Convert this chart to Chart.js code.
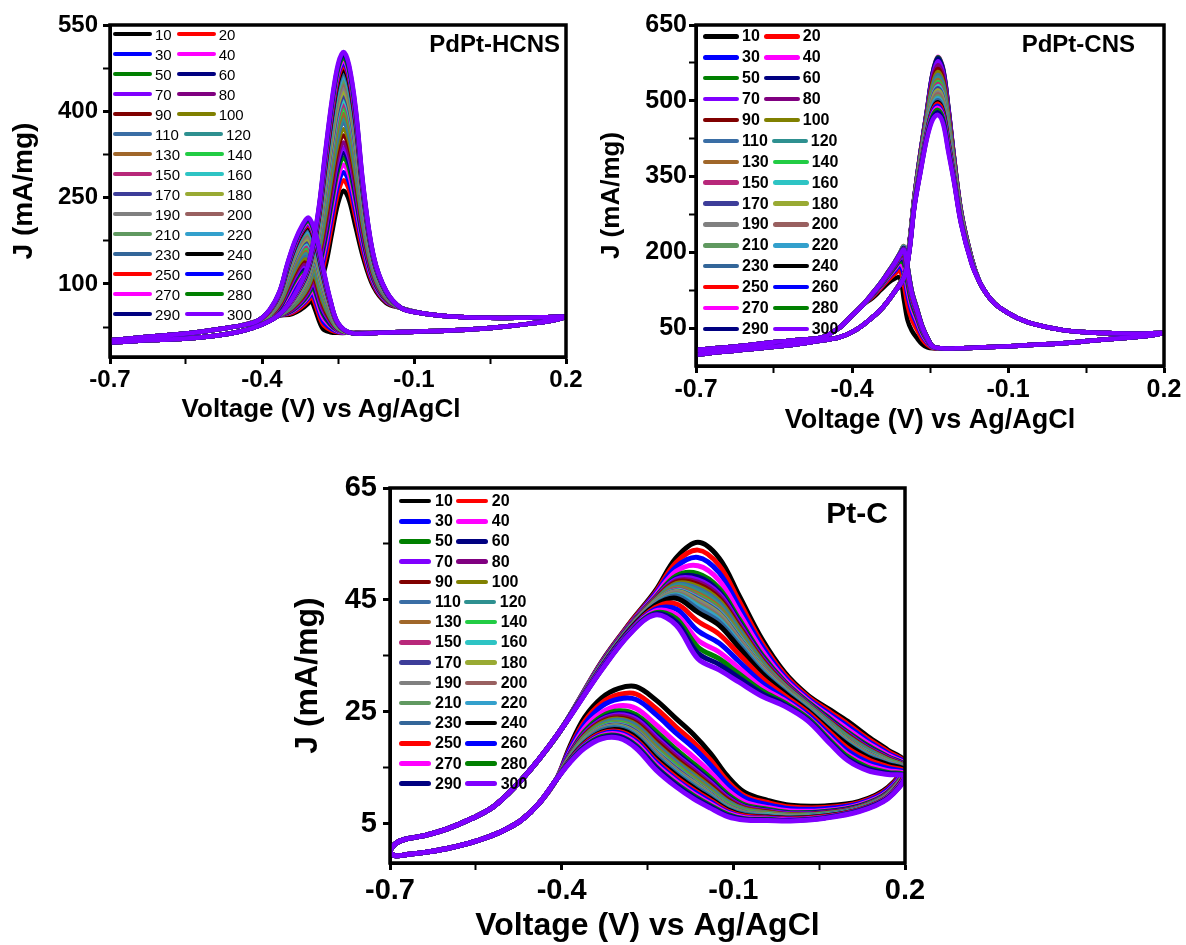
<!DOCTYPE html>
<html><head><meta charset="utf-8">
<script src="https://cdn.jsdelivr.net/npm/chart.js@4.4.1/dist/chart.umd.min.js"></script>
<style>
html,body{margin:0;padding:0;background:#fff;}
#root{position:relative;width:1186px;height:945px;overflow:hidden;background:#fff;font-family:"Liberation Sans",Arial,Helvetica,sans-serif;}
canvas{position:absolute;}
.leg{position:absolute;color:#000;}
.row{display:flex;align-items:center;white-space:nowrap;}
.sw{display:inline-block;flex:0 0 auto;border-radius:3px;}
.ptitle{position:absolute;font-weight:bold;color:#000;white-space:nowrap;line-height:1;}
</style></head><body><div id="root">
<canvas id="c1" width="600" height="440" style="left:0;top:0"></canvas>
<canvas id="c2" width="596" height="445" style="left:590px;top:0"></canvas>
<canvas id="c3" width="660" height="475" style="left:280px;top:470px"></canvas>
</div>
<script>
// ---------- shared ----------
const cycles = [10,20,30,40,50,60,70,80,90,100,110,120,130,140,150,160,170,180,190,200,210,220,230,240,250,260,270,280,290,300];
const seriesColors = ['#000000','#FF0000','#0000FF','#FF00FF','#008000','#000080','#8000FF','#800080','#800000','#808000',
  '#3A6EA5','#2E9090','#A0672A','#22CC44','#B8287A','#2EC4C4','#3D3D99','#99AA33','#808080','#996060',
  '#609960','#33A0CC','#336699','#000000','#FF0000','#0000FF','#FF00FF','#008000','#000080','#8000FF'];
const xMajor = [-0.7,-0.4,-0.1,0.2];
const xMajorLabels = ['-0.7','-0.4','-0.1','0.2'];
const xMinor = [-0.55,-0.25,0.05];
const xTitle = 'Voltage (V) vs Ag/AgCl';
const yTitle = 'J (mA/mg)';

// ---------- Panel 1 : PdPt-HCNS ----------
const p1Title = 'PdPt-HCNS';
const p1YMajor = [100,250,400,550];
const p1YMinor = [25,175,325,475];
const p1FwdStartV = [-0.7,-0.65,-0.6,-0.55,-0.5,-0.45,-0.41,-0.37];
const p1FwdStartJ = [-2,1,3,5,9,16,26,44];
const p1FwdPeakV = [-0.34,-0.31,-0.29,-0.275,-0.262,-0.25,-0.239,-0.228,-0.215,-0.2,-0.18,-0.155];
const p1FwdPeakJ = [
[48,65,90,130,188,240,262,245,198,145,95,67],
[50,70,100,145,205,258,280,263,214,154,99,69],
[52,74,107,157,219,272,294,276,226,162,102,70],
[53,77,114,168,232,285,307,289,237,169,105,71],
[54,80,121,178,243,298,319,301,247,175,108,72],
[55,83,126,185,252,307,328,310,255,179,110,73],
[56,85,131,193,261,316,337,319,263,184,112,74],
[57,88,136,200,269,325,346,327,270,189,114,74],
[59,91,142,210,281,337,358,339,281,195,117,75],
[60,94,147,218,291,347,369,349,289,200,119,76],
[61,97,153,228,301,358,380,360,299,206,122,77],
[62,99,158,234,309,366,388,367,306,210,124,78],
[63,101,163,242,317,375,396,376,314,215,126,79],
[64,104,167,249,326,384,406,385,321,220,128,80],
[65,106,171,255,333,391,413,392,327,223,129,80],
[66,108,175,261,340,398,420,399,333,227,131,81],
[66,109,179,267,346,405,427,406,339,230,133,81],
[67,111,183,273,353,413,434,413,346,234,134,82],
[68,113,187,279,361,421,442,420,352,238,136,83],
[69,115,191,285,368,428,449,427,358,242,138,83],
[69,117,193,289,373,433,454,432,363,245,139,84],
[70,119,197,295,379,440,461,439,369,248,140,84],
[71,120,201,300,385,446,467,445,374,251,142,85],
[72,122,204,305,391,452,473,451,379,254,143,85],
[72,124,207,310,397,458,479,457,384,258,145,86],
[73,125,210,314,402,463,484,461,389,260,146,86],
[73,126,212,318,407,468,489,466,393,263,147,87],
[74,128,215,323,411,473,494,471,397,265,148,87],
[75,129,218,327,416,478,499,476,401,268,149,88],
[75,130,220,330,420,482,503,480,405,270,150,88]];
const p1FwdEndV = [-0.125,-0.09,-0.05,0,0.05,0.1,0.15,0.2];
const p1FwdEndJ = [58,50,45,42,41,41,42,43];
const p1RevStartV = [0.17,0.13,0.08,0.03,-0.03,-0.1,-0.17,-0.225];
const p1RevStartJ = [36,31,26,22,19,17,15,15];
const p1RevPeakV = [-0.25,-0.265,-0.28,-0.295,-0.308,-0.32,-0.335,-0.35,-0.365,-0.385];
const p1RevPeakJ = [
[15,16,22,55,85,98,85,65,50,38],
[16,20,30,65,95,106,92,70,53,39],
[17,23,36,73,102,112,97,74,55,40],
[18,27,42,80,109,118,102,78,57,41],
[19,29,48,87,116,123,106,82,59,42],
[20,31,52,92,121,127,110,84,60,43],
[20,34,56,97,126,131,113,87,62,43],
[21,36,60,102,131,135,117,90,63,44],
[22,38,65,109,137,140,121,93,65,45],
[23,41,70,115,142,144,125,96,67,46],
[23,43,75,121,148,149,129,99,69,46],
[24,45,78,125,153,153,132,101,70,47],
[24,47,82,130,158,157,135,104,71,47],
[25,49,86,135,162,161,139,107,73,48],
[26,51,90,139,166,164,141,109,74,49],
[26,53,93,143,170,167,144,111,75,49],
[27,54,96,147,174,170,146,113,76,50],
[27,56,99,151,178,173,149,115,77,50],
[28,58,103,156,182,176,152,117,78,51],
[28,59,106,160,186,179,155,119,79,51],
[29,61,108,162,188,182,157,121,80,52],
[29,62,111,166,192,185,159,123,81,52],
[29,64,114,170,196,187,162,125,82,52],
[30,65,117,173,199,190,164,126,83,53],
[30,66,119,177,202,193,166,128,84,53],
[31,68,121,179,205,195,168,129,85,54],
[31,69,124,182,207,197,170,131,86,54],
[31,70,126,185,210,199,172,132,87,54],
[32,71,128,188,213,201,173,134,87,55],
[32,72,130,190,215,203,175,135,88,55]];
const p1RevEndV = [-0.41,-0.44,-0.48,-0.52,-0.56,-0.6,-0.65,-0.7];
const p1RevEndJ = [35,28,22,17,13,10,6,2];

// ---------- Panel 2 : PdPt-CNS ----------
const p2Title = 'PdPt-CNS';
const p2YMajor = [50,200,350,500,650];
const p2YMinor = [125,275,425,575];
const p2FwdStartV = [-0.7,-0.65,-0.6,-0.55,-0.5,-0.456,-0.423,-0.39,-0.36,-0.34,-0.32];
const p2FwdStartJ = [-3,3,8,13,19,26,32,48,72,92,119];
const p2FwdPeakV = [-0.30,-0.29,-0.28,-0.268,-0.256,-0.245,-0.235,-0.225,-0.215,-0.204,-0.19,-0.17];
const p2FwdPeakJ = [
[154,213,308,396,474,545,575,554,481,385,277,187],
[155,214,309,398,477,549,580,558,485,387,278,187],
[155,214,309,399,478,552,583,561,487,388,279,188],
[155,215,310,400,480,555,587,565,490,390,280,188],
[155,215,310,400,480,554,586,564,489,390,280,188],
[155,215,309,399,479,553,584,562,488,389,279,188],
[155,214,308,397,476,548,578,556,483,386,278,187],
[154,213,307,394,472,541,570,549,477,383,276,187],
[154,212,306,392,469,536,563,542,471,380,275,186],
[154,211,305,390,466,531,557,536,467,377,273,185],
[153,210,304,387,463,526,551,531,462,374,272,185],
[153,210,303,386,460,522,546,526,458,372,271,184],
[153,209,302,384,458,518,541,521,454,370,270,184],
[153,208,301,383,456,515,537,517,451,368,269,184],
[153,208,301,381,454,511,533,513,448,367,268,183],
[152,207,300,380,452,508,529,510,445,365,267,183],
[152,207,299,378,450,505,525,506,441,363,267,183],
[152,206,299,377,448,502,521,502,438,361,266,182],
[152,206,298,376,447,498,517,498,435,360,265,182],
[152,205,297,374,445,495,513,494,432,358,264,182],
[152,205,296,373,443,492,509,490,429,356,263,181],
[151,204,296,371,441,489,505,487,426,354,262,181],
[151,204,295,370,439,485,501,483,423,353,261,181],
[151,203,294,369,437,482,497,479,420,351,260,180],
[151,203,294,368,436,480,494,476,417,350,260,180],
[151,202,293,366,434,477,490,472,414,348,259,180],
[151,202,292,365,432,473,486,468,411,346,258,179],
[150,201,292,363,430,470,482,465,408,344,257,179],
[150,201,291,362,427,466,477,460,404,342,256,178],
[150,200,290,360,425,462,472,455,400,340,255,178]];
const p2FwdEndV = [-0.155,-0.14,-0.125,-0.105,-0.08,-0.05,0.006,0.05,0.1,0.15,0.2];
const p2FwdEndJ = [142,116,98,83,69,58,46,42,40,39,40];
const p2RevStartV = [0.17,0.13,0.08,0.04,0.006,-0.05,-0.1,-0.15,-0.2,-0.228];
const p2RevStartJ = [35,31,27,23,20,17,14,12,10,10];
const p2RevPeakV = [-0.245,-0.255,-0.265,-0.275,-0.285,-0.293,-0.30,-0.308,-0.318,-0.33,-0.345,-0.36];
const p2RevPeakJ = [
[10,12,18,30,45,65,105,150,148,140,125,110],
[11,17,28,47,67,95,135,164,157,146,129,113],
[12,21,35,58,82,115,155,173,163,150,132,115],
[12,23,39,64,91,127,167,178,167,152,133,116],
[13,25,42,70,98,137,177,182,170,154,134,116],
[13,26,45,74,104,145,185,186,172,156,135,117],
[13,27,47,77,108,150,190,188,174,157,136,118],
[14,28,49,80,112,155,195,191,175,158,137,118],
[14,29,50,81,114,158,198,192,176,159,137,118],
[14,29,51,83,116,161,201,193,177,159,137,119],
[14,30,52,85,119,165,205,195,178,160,138,119],
[14,30,52,86,120,166,206,195,178,160,138,119],
[14,30,53,86,120,167,207,196,179,160,138,119],
[14,31,53,87,121,168,208,196,179,161,138,119],
[14,31,53,87,122,169,209,197,179,161,139,119],
[14,31,54,88,122,170,210,197,180,161,139,119],
[14,31,54,88,123,170,211,198,180,161,139,120],
[14,31,54,88,123,171,212,198,180,162,139,120],
[14,31,54,88,123,171,212,198,180,162,139,120],
[14,31,54,88,123,171,211,198,180,161,139,120],
[14,31,54,88,122,170,211,197,180,161,139,119],
[14,31,53,87,122,170,210,197,179,161,139,119],
[14,31,53,87,122,169,209,197,179,161,139,119],
[14,31,53,87,121,168,208,196,179,161,138,119],
[14,30,53,86,120,167,207,196,179,160,138,119],
[14,30,53,86,120,167,207,196,179,160,138,119],
[14,30,52,86,120,166,206,195,178,160,138,119],
[14,30,52,86,120,166,206,195,178,160,138,119],
[14,30,52,85,119,165,205,195,178,160,138,119],
[14,30,52,85,119,165,205,195,178,160,138,119]];
const p2RevEndV = [-0.38,-0.40,-0.423,-0.456,-0.5,-0.552,-0.6,-0.65,-0.7];
const p2RevEndJ = [95,75,52,32,27,22,16,11,7];

// ---------- Panel 3 : Pt-C ----------
const p3Title = 'Pt-C';
const p3YMajor = [5,25,45,65];
const p3YMinor = [15,35,55];
const p3FwdStartV = [-0.7,-0.69,-0.675,-0.64,-0.6,-0.56,-0.52,-0.48,-0.44,-0.40];
const p3FwdStartJ = [0.3,1.5,2.2,2.9,4.1,5.8,8.0,11.8,16.5,22.0];
const p3FwdPeakV = [-0.33,-0.28,-0.237,-0.2,-0.162,-0.125,-0.09,-0.05,-0.01,0.03,0.07,0.1,0.135,0.17,0.2];
const p3FwdPeakJ = [
[34,41,46.5,52.5,55.3,52.5,45.8,38,32,28,25.3,23.3,20.6,18.2,15.9],
[33.9,40.9,46.2,51.7,53.9,51.2,44.8,37.3,31.6,27.7,24.9,22.8,20.2,17.9,15.7],
[33.8,40.7,46.0,50.9,52.6,49.9,43.8,36.7,31.2,27.4,24.5,22.4,19.8,17.6,15.6],
[33.7,40.6,45.7,50.1,51.1,48.5,42.7,36.0,30.8,27.1,24.1,21.9,19.4,17.3,15.4],
[33.6,40.5,45.4,49.3,49.7,47.1,41.6,35.2,30.4,26.8,23.7,21.4,19.0,17.0,15.2],
[33.5,40.4,45.2,48.9,49.1,46.5,41.1,34.9,30.2,26.6,23.5,21.2,18.8,16.9,15.1],
[33.5,40.4,45.2,48.7,48.6,46.1,40.8,34.7,30.1,26.5,23.3,21.1,18.6,16.8,15.1],
[33.5,40.3,45.1,48.4,48.2,45.7,40.5,34.5,30.0,26.4,23.2,20.9,18.5,16.7,15.0],
[33.5,40.3,45.0,48.2,47.8,45.3,40.2,34.3,29.8,26.3,23.1,20.8,18.4,16.6,15.0],
[33.4,40.2,44.9,47.9,47.4,44.9,39.9,34.1,29.7,26.3,23.0,20.6,18.3,16.5,14.9],
[33.4,40.2,44.8,47.7,47.0,44.5,39.6,33.9,29.6,26.2,22.9,20.5,18.2,16.4,14.9],
[33.4,40.2,44.7,47.5,46.6,44.1,39.3,33.7,29.5,26.1,22.7,20.4,18.0,16.4,14.8],
[33.3,40.1,44.7,47.2,46.1,43.7,39.0,33.5,29.4,26.0,22.6,20.2,17.9,16.3,14.8],
[33.3,40.1,44.6,47.0,45.7,43.3,38.7,33.3,29.2,25.9,22.5,20.1,17.8,16.2,14.7],
[33.3,40.1,44.5,46.9,45.5,43.1,38.5,33.2,29.2,25.8,22.4,20.0,17.7,16.1,14.7],
[33.3,40.0,44.5,46.7,45.3,42.9,38.4,33.1,29.1,25.8,22.4,19.9,17.7,16.1,14.7],
[33.3,40.0,44.4,46.6,45.1,42.7,38.2,33.0,29.1,25.7,22.3,19.9,17.6,16.0,14.7],
[33.2,40.0,44.4,46.5,44.9,42.5,38.0,32.9,29.0,25.7,22.2,19.8,17.5,16.0,14.6],
[33.2,40.0,44.4,46.4,44.7,42.3,37.9,32.8,28.9,25.7,22.2,19.7,17.5,16.0,14.6],
[33.2,39.9,44.3,46.1,44.3,41.9,37.6,32.6,28.8,25.6,22.1,19.6,17.4,15.9,14.6],
[33.2,39.9,44.2,46.0,44.1,41.7,37.4,32.5,28.8,25.5,22.0,19.5,17.3,15.8,14.5],
[33.2,39.9,44.2,45.9,43.9,41.5,37.3,32.4,28.7,25.5,21.9,19.4,17.2,15.8,14.5],
[33.1,39.9,44.1,45.7,43.4,41.1,37.0,32.2,28.6,25.4,21.8,19.3,17.1,15.7,14.5],
[33.1,39.8,44.0,45.3,42.8,40.5,36.5,31.9,28.4,25.2,21.6,19.1,16.9,15.6,14.4],
[33.0,39.6,43.6,44.3,41.2,38.9,35.3,31.1,27.9,24.9,21.2,18.5,16.5,15.2,14.2],
[32.9,39.5,43.3,43.4,39.5,37.3,34.0,30.2,27.4,24.5,20.7,18.0,16.0,14.9,14.0],
[32.7,39.3,43.0,42.4,37.8,35.7,32.8,29.4,27.0,24.1,20.2,17.4,15.5,14.5,13.8],
[32.6,39.2,42.7,41.7,36.6,34.5,31.8,28.8,26.6,23.9,19.8,17.0,15.1,14.2,13.6],
[32.6,39.1,42.5,41.1,35.5,33.5,31.1,28.3,26.3,23.6,19.5,16.6,14.8,14.0,13.5],
[32.5,39.0,42.3,40.5,34.5,32.5,30.3,27.8,26.0,23.4,19.2,16.3,14.5,13.8,13.4]];
const p3FwdEndV = [];
const p3FwdEndJ = [];
const p3RevStartV = [];
const p3RevStartJ = [];
const p3RevPeakV = [0.17,0.12,0.06,0.0,-0.04,-0.08,-0.11,-0.14,-0.17,-0.2,-0.235,-0.27,-0.3,-0.33,-0.36,-0.385];
const p3RevPeakJ = [
[11.5,9.0,8.2,8.3,9.2,10.6,13.5,17.6,21.0,23.8,27.1,29.5,29.2,27.5,24.0,19.0],
[11.3,8.8,7.9,8.0,8.8,10.0,12.6,16.4,19.6,22.3,25.6,28.2,28.1,26.6,23.3,18.6],
[11.1,8.6,7.7,7.7,8.4,9.6,12.0,15.5,18.6,21.2,24.5,27.2,27.3,26.0,22.8,18.4],
[10.8,8.4,7.4,7.3,7.9,8.9,11.0,14.2,17.0,19.5,22.7,25.6,26.1,24.9,22.1,17.9],
[10.6,8.2,7.2,7.0,7.6,8.4,10.3,13.2,15.8,18.3,21.5,24.5,25.2,24.2,21.5,17.6],
[10.5,8.1,7.1,6.9,7.4,8.1,9.9,12.7,15.2,17.7,20.8,24.0,24.7,23.8,21.2,17.5],
[10.4,8.0,7.0,6.8,7.3,8.0,9.7,12.4,14.9,17.3,20.5,23.7,24.5,23.6,21.1,17.4],
[10.4,8.0,7.0,6.7,7.2,7.9,9.5,12.1,14.6,17.0,20.1,23.3,24.2,23.4,20.9,17.3],
[10.3,7.9,6.9,6.6,7.1,7.7,9.3,11.8,14.2,16.6,19.7,23.0,23.9,23.2,20.8,17.2],
[10.3,7.9,6.8,6.6,7.0,7.6,9.0,11.5,13.9,16.2,19.3,22.7,23.7,23.0,20.6,17.1],
[10.2,7.8,6.8,6.5,6.9,7.5,8.9,11.3,13.6,16.0,19.1,22.5,23.5,22.8,20.5,17.1],
[10.2,7.8,6.7,6.5,6.8,7.4,8.7,11.1,13.4,15.7,18.8,22.2,23.3,22.7,20.4,17.0],
[10.1,7.8,6.7,6.4,6.8,7.3,8.6,10.9,13.2,15.5,18.6,22.0,23.1,22.5,20.3,17.0],
[10.1,7.7,6.7,6.3,6.7,7.2,8.5,10.7,12.9,15.3,18.3,21.8,23.0,22.4,20.1,16.9],
[10.1,7.7,6.6,6.3,6.6,7.1,8.3,10.5,12.7,15.0,18.1,21.6,22.8,22.2,20.0,16.8],
[10.0,7.7,6.6,6.3,6.6,7.0,8.2,10.4,12.6,14.9,18.0,21.5,22.7,22.2,20.0,16.8],
[10.0,7.7,6.6,6.2,6.5,7.0,8.2,10.3,12.5,14.8,17.8,21.4,22.6,22.1,19.9,16.8],
[10.0,7.6,6.5,6.2,6.5,6.9,8.1,10.2,12.4,14.6,17.7,21.2,22.5,22.0,19.9,16.8],
[10.0,7.6,6.5,6.2,6.5,6.9,8.0,10.2,12.3,14.5,17.6,21.1,22.4,22.0,19.8,16.7],
[10.0,7.6,6.5,6.1,6.4,6.8,8.0,10.1,12.1,14.4,17.5,21.0,22.3,21.9,19.8,16.7],
[9.9,7.6,6.5,6.1,6.4,6.8,7.9,10.0,12.0,14.3,17.3,20.9,22.3,21.8,19.7,16.7],
[9.9,7.6,6.5,6.1,6.4,6.7,7.8,9.9,11.9,14.2,17.2,20.8,22.2,21.7,19.7,16.6],
[9.9,7.6,6.4,6.1,6.3,6.7,7.7,9.8,11.8,14.0,17.1,20.7,22.1,21.7,19.6,16.6],
[9.8,7.5,6.4,6.0,6.2,6.5,7.5,9.5,11.5,13.7,16.7,20.4,21.8,21.4,19.4,16.5],
[9.8,7.5,6.3,5.9,6.1,6.4,7.3,9.2,11.1,13.3,16.3,20.0,21.5,21.2,19.3,16.4],
[9.7,7.4,6.2,5.8,6.0,6.2,7.1,8.9,10.8,12.9,16.0,19.7,21.3,21.0,19.1,16.3],
[9.7,7.3,6.2,5.7,5.9,6.1,6.9,8.6,10.4,12.6,15.6,19.4,21.0,20.8,18.9,16.2],
[9.6,7.3,6.1,5.6,5.8,5.9,6.7,8.3,10.1,12.2,15.2,19.0,20.7,20.6,18.8,16.2],
[9.6,7.3,6.1,5.6,5.7,5.8,6.5,8.1,9.8,12.0,15.0,18.8,20.6,20.4,18.7,16.1],
[9.5,7.2,6.0,5.5,5.6,5.7,6.3,7.8,9.5,11.6,14.6,18.5,20.3,20.2,18.5,16.0]];
const p3RevEndV = [-0.41,-0.44,-0.47,-0.5,-0.53,-0.56,-0.6,-0.64,-0.67,-0.69,-0.7];
const p3RevEndJ = [12.8,8.6,5.7,3.9,2.6,1.6,0.6,-0.1,-0.5,-0.7,-0.2];

// ---------- builders ----------
const FF = '"Liberation Sans", Arial, Helvetica, sans-serif';
const root = document.getElementById('root');
function near(a, b) { return Math.abs(a - b) < 1e-6; }
function labelFor(v, major, labels) {
  for (let k = 0; k < major.length; k++) if (near(v, major[k])) return labels[k];
  return '';
}
function isMajor(v, major) { return major.some(m => near(m, v)); }
function seriesPoints(segs, i) {
  const pts = [];
  segs.forEach(([V, J]) => {
    const row = (J.length && Array.isArray(J[0])) ? J[i] : J;
    V.forEach((v, k) => pts.push({x: v, y: row[k]}));
  });
  return pts;
}
const framePlugin = {
  id: 'frame',
  afterDatasetsDraw(chart) {
    const {ctx, chartArea: a} = chart;
    ctx.save();
    ctx.strokeStyle = '#000';
    ctx.lineWidth = 3.5;
    ctx.strokeRect(a.left, a.top, a.right - a.left, a.bottom - a.top);
    ctx.restore();
  }
};
function makeChart(id, o) {
  const datasets = cycles.map((c, i) => ({
    label: String(c),
    data: seriesPoints(o.segs, i),
    showLine: true, fill: false,
    borderColor: seriesColors[i], backgroundColor: seriesColors[i],
    borderWidth: o.lw, pointRadius: 0, pointHoverRadius: 0,
    tension: 0.35, borderCapStyle: 'round', borderJoinStyle: 'round',
    order: cycles.length - 1 - i
  }));
  const xTicks = [...xMajor, ...xMinor].sort((a, b) => a - b);
  const yTicks = [...o.yMajor, ...o.yMinor].sort((a, b) => a - b);
  const yLabels = o.yMajor.map(String);
  new Chart(document.getElementById(id), {
    type: 'scatter',
    data: {datasets},
    options: {
      responsive: false, animation: false, events: [],
      layout: {padding: o.pad},
      plugins: {legend: {display: false}, tooltip: {enabled: false}},
      scales: {
        x: {
          type: 'linear', position: 'bottom', min: -0.7, max: 0.2,
          afterBuildTicks: s => { s.ticks = xTicks.map(v => ({value: v})); },
          afterFit: s => { s.height = o.xH; s.paddingLeft = 0; s.paddingRight = 0; },
          ticks: {autoSkip: false, maxRotation: 0, minRotation: 0, color: '#000', padding: o.xTickPad,
            font: {family: FF, size: o.tickSize, weight: 'bold', lineHeight: 1},
            callback: v => labelFor(v, xMajor, xMajorLabels)},
          grid: {drawOnChartArea: false, drawTicks: true, tickLength: 7, tickColor: '#000',
            tickWidth: c => (c.tick && isMajor(c.tick.value, xMajor)) ? 3 : 2},
          border: {display: true, color: '#000', width: 3},
          title: {display: !o.xtHtml, text: xTitle, color: '#000',
            font: {family: FF, size: o.xtSize, weight: 'bold'}, padding: {top: 0, bottom: o.xtPad}}
        },
        y: {
          type: 'linear', position: 'left', min: o.yMin, max: o.yMax,
          afterBuildTicks: s => { s.ticks = yTicks.map(v => ({value: v})); },
          afterFit: s => { s.width = o.yW; s.paddingTop = 0; s.paddingBottom = 0; },
          ticks: {autoSkip: false, color: '#000', padding: o.yTickPad,
            font: {family: FF, size: o.tickSize, weight: 'bold', lineHeight: 1},
            callback: v => labelFor(v, o.yMajor, yLabels)},
          grid: {drawOnChartArea: false, drawTicks: true, tickLength: 7, tickColor: '#000',
            tickWidth: c => (c.tick && isMajor(c.tick.value, o.yMajor)) ? 3 : 2},
          border: {display: true, color: '#000', width: 3},
          title: {display: true, text: yTitle, color: '#000',
            font: {family: FF, size: o.ytSize, weight: 'bold'}, padding: {top: o.ytPad, bottom: 0}}
        }
      }
    },
    plugins: [framePlugin]
  });
  if (o.xtHtml) {
    const d = document.createElement('div');
    d.className = 'ptitle';
    d.textContent = xTitle;
    d.style.left = o.xtHtml.cx + 'px';
    d.style.top = o.xtHtml.top + 'px';
    d.style.fontSize = o.xtSize + 'px';
    d.style.transform = 'translateX(-50%)';
    root.appendChild(d);
  }
}
function buildLegend(o) {
  const box = document.createElement('div');
  box.className = 'leg';
  box.style.left = o.left + 'px';
  box.style.top = o.top + 'px';
  box.style.font = `${o.weight} ${o.size}px ${FF}`;
  for (let r = 0; r < cycles.length / 2; r++) {
    const row = document.createElement('div');
    row.className = 'row';
    row.style.height = o.rowH + 'px';
    for (let c = 0; c < 2; c++) {
      const i = r * 2 + c;
      const sw = document.createElement('span');
      sw.className = 'sw';
      sw.style.width = o.sw + 'px';
      sw.style.height = o.th + 'px';
      sw.style.background = seriesColors[i];
      sw.style.marginLeft = (c ? o.gap : 0) + 'px';
      const t = document.createElement('span');
      t.textContent = String(cycles[i]);
      t.style.marginLeft = o.tgap + 'px';
      t.style.lineHeight = '1';
      row.append(sw, t);
    }
    box.appendChild(row);
  }
  root.appendChild(box);
}
function addTitle(text, right, top, size) {
  const d = document.createElement('div');
  d.className = 'ptitle';
  d.textContent = text;
  d.style.right = right + 'px';
  d.style.top = top + 'px';
  d.style.fontSize = size + 'px';
  root.appendChild(d);
}

makeChart('c1', {
  segs: [[p1FwdStartV, p1FwdStartJ], [p1FwdPeakV, p1FwdPeakJ], [p1FwdEndV, p1FwdEndJ],
         [p1RevStartV, p1RevStartJ], [p1RevPeakV, p1RevPeakJ], [p1RevEndV, p1RevEndJ]],
  yMajor: p1YMajor, yMinor: p1YMinor, yMin: -27, yMax: 550,
  pad: {top: 25, right: 34, left: 0, bottom: 0}, yW: 110, xH: 83,
  tickSize: 24, xTickPad: 4, yTickPad: 5, xtSize: 26, xtPad: 16, ytSize: 28, ytPad: 7, lw: 4.5,
  xtHtml: {cx: 321, top: 395}
});
makeChart('c2', {
  segs: [[p2FwdStartV, p2FwdStartJ], [p2FwdPeakV, p2FwdPeakJ], [p2FwdEndV, p2FwdEndJ],
         [p2RevStartV, p2RevStartJ], [p2RevPeakV, p2RevPeakJ], [p2RevEndV, p2RevEndJ]],
  yMajor: p2YMajor, yMinor: p2YMinor, yMin: -25, yMax: 650,
  pad: {top: 25, right: 22, left: 0, bottom: 0}, yW: 106, xH: 79,
  tickSize: 25, xTickPad: 5, yTickPad: 2, xtSize: 27, xtPad: 8, ytSize: 26, ytPad: 6, lw: 4.5
});
makeChart('c3', {
  segs: [[p3FwdStartV, p3FwdStartJ], [p3FwdPeakV, p3FwdPeakJ], [p3FwdEndV, p3FwdEndJ],
         [p3RevStartV, p3RevStartJ], [p3RevPeakV, p3RevPeakJ], [p3RevEndV, p3RevEndJ]],
  yMajor: p3YMajor, yMinor: p3YMinor, yMin: -2, yMax: 65,
  pad: {top: 18, right: 35, left: 0, bottom: 0}, yW: 110, xH: 82,
  tickSize: 29, xTickPad: 6, yTickPad: 6, xtSize: 32, xtPad: 0, ytSize: 32, ytPad: 9, lw: 5
});
buildLegend({left: 113, top: 24, rowH: 20, sw: 39, th: 4.5, tgap: 3, gap: 5, size: 15, weight: 'normal'});
buildLegend({left: 703, top: 26, rowH: 20.9, sw: 36, th: 4.5, tgap: 3, gap: 4, size: 16, weight: 'bold'});
buildLegend({left: 399, top: 491, rowH: 20.2, sw: 32, th: 4.5, tgap: 4, gap: 3, size: 16, weight: 'bold'});
addTitle(p1Title, 626, 32, 24);
addTitle(p2Title, 51, 32, 24);
addTitle(p3Title, 298, 498, 30);
</script>
</body></html>
